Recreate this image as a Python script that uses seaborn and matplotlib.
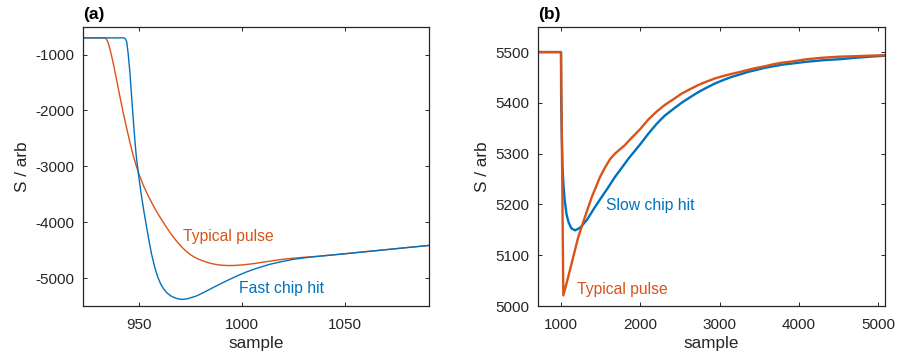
import matplotlib
matplotlib.use("Agg")
import matplotlib.pyplot as plt
import seaborn as sns
import pandas as pd

# ---------------- data ----------------
# Panel (a)
a_fast_x = [922, 942.7, 943.3, 943.9, 944.6, 945.5, 946.3, 947.1, 947.9, 948.6, 949.3, 950.1,
            951.1, 952.3, 953.6, 954.8, 956, 957.5, 959, 960.5, 962, 963.5, 965.5, 968,
            970.6, 973.5, 977.8, 981.5, 985.9, 990, 994, 998, 1002, 1008, 1013.4, 1019,
            1024.7, 1031, 1038, 1050, 1060, 1070, 1080, 1091]
a_fast_y = [-700, -700, -720, -768, -975, -1333, -1750, -2160, -2540, -2830, -3040, -3270,
            -3530, -3810, -4090, -4340, -4570, -4800, -4980, -5110, -5200, -5265, -5322, -5363,
            -5382, -5370, -5321, -5255, -5171, -5095, -5023, -4955, -4893, -4815, -4755, -4708,
            -4666, -4635, -4607, -4565, -4528, -4492, -4455, -4416]

a_typ_x = [922, 933.3, 934.1, 934.9, 935.8, 936.6, 937.4, 939, 940.6, 942.2, 943.9, 945.5,
           947.1, 948.7, 950.3, 952, 953.5, 955, 956.8, 958.8, 960.8, 962.8, 964.9, 967, 969,
           971, 973, 975, 977, 979, 981, 985, 989, 992.5, 995.6, 1000, 1005.3, 1013.4,
           1021.5, 1030, 1038, 1050, 1060, 1070, 1080, 1091]
a_typ_y = [-700, -700, -725, -790, -905, -1030, -1160, -1452, -1750, -2040, -2320, -2575,
           -2810, -3010, -3180, -3340, -3460, -3575, -3700, -3830, -3950, -4065, -4180, -4285,
           -4375, -4455, -4525, -4582, -4628, -4663, -4693, -4740, -4766, -4775, -4775, -4765,
           -4743, -4698, -4656, -4628, -4607, -4565, -4528, -4492, -4455, -4416]

# Panel (b)
b_slow_x = [700, 1000, 1001, 1009, 1018, 1030, 1045, 1070, 1095, 1130, 1177, 1240, 1324,
            1429, 1510, 1597, 1680, 1766, 1850, 1934, 1997, 2100, 2208, 2310, 2417, 2520,
            2628, 2730, 2838, 2940, 3048, 3150, 3259, 3360, 3469, 3570, 3679, 3780, 3890,
            4100, 4310, 4520, 4731, 4900, 5100]
b_slow_y = [5500, 5500, 5420, 5345, 5275, 5240, 5210, 5180, 5165, 5153, 5149, 5154, 5169,
            5195, 5214, 5234, 5254, 5272, 5290, 5306, 5318, 5339, 5359, 5375, 5388, 5400,
            5411, 5421, 5430, 5438, 5445, 5451, 5456, 5461, 5465, 5469, 5472, 5475, 5477,
            5481, 5484, 5486, 5489, 5491, 5493]

b_typ_x = [700, 1000, 1029, 1060, 1092, 1155, 1218, 1303, 1387, 1492, 1560, 1618, 1680,
           1740, 1800, 1890, 1997, 2100, 2208, 2310, 2417, 2520, 2628, 2730, 2838, 2940,
           3048, 3150, 3259, 3360, 3469, 3570, 3679, 3780, 3890, 4100, 4310, 4520, 4731,
           4900, 5100]
b_typ_y = [5500, 5500, 5021, 5039, 5058, 5097, 5136, 5176, 5214, 5254, 5274, 5289, 5300,
           5308, 5316, 5331, 5348, 5367, 5383, 5396, 5407, 5418, 5427, 5435, 5442, 5448,
           5453, 5457, 5461, 5465, 5469, 5472, 5476, 5479, 5481, 5486, 5489, 5491, 5492,
           5493, 5494]

a_xticks = [950, 1000, 1050]
a_yticks = [-5000, -4000, -3000, -2000, -1000]
b_xticks = [1000, 2000, 3000, 4000, 5000]
b_yticks = [5000, 5100, 5200, 5300, 5400, 5500]

BLUE = "#0072BD"
ORANGE = "#D95319"
AXC = "#262626"

sns.set_theme(style="ticks")
plt.rcParams["font.family"] = ["Liberation Sans", "DejaVu Sans"]
plt.rcParams["axes.unicode_minus"] = False
plt.rcParams["axes.edgecolor"] = AXC
plt.rcParams["axes.labelcolor"] = AXC
plt.rcParams["xtick.color"] = AXC
plt.rcParams["ytick.color"] = AXC

fig = plt.figure(figsize=(8.98, 3.55), dpi=100)
axA = fig.add_axes([0.0921, 0.138, 0.3856, 0.7868])
axB = fig.add_axes([0.5988, 0.138, 0.3871, 0.7868])

dfa_f = pd.DataFrame({"sample": a_fast_x, "S": a_fast_y})
dfa_t = pd.DataFrame({"sample": a_typ_x, "S": a_typ_y})
dfb_s = pd.DataFrame({"sample": b_slow_x, "S": b_slow_y})
dfb_t = pd.DataFrame({"sample": b_typ_x, "S": b_typ_y})

sns.lineplot(data=dfa_t, x="sample", y="S", color=ORANGE, lw=1.0, estimator=None,
             sort=False, ax=axA)
sns.lineplot(data=dfa_f, x="sample", y="S", color=BLUE, lw=1.0, estimator=None,
             sort=False, ax=axA)
sns.lineplot(data=dfb_s, x="sample", y="S", color=BLUE, lw=1.7, estimator=None,
             sort=False, ax=axB)
sns.lineplot(data=dfb_t, x="sample", y="S", color=ORANGE, lw=1.7, estimator=None,
             sort=False, ax=axB)

axA.set_xlim(922.5, 1091)
axA.set_ylim(-5500, -500)
axA.set_xticks(a_xticks)
axA.set_yticks(a_yticks)
axB.set_xlim(706, 5092)
axB.set_ylim(5000, 5550)
axB.set_xticks(b_xticks)
axB.set_yticks(b_yticks)

for ax, lab in [(axA, "(a)"), (axB, "(b)")]:
    for s in ax.spines.values():
        s.set_visible(True)
        s.set_linewidth(0.9)
        s.set_color(AXC)
    ax.tick_params(which="both", direction="in", top=True, right=True,
                   length=2.6, width=0.7, labelsize=11, colors=AXC)
    ax.tick_params(axis="x", pad=8.5)
    ax.tick_params(axis="y", pad=6)
    ax.set_xlabel("sample", fontsize=12.3, labelpad=3)
    ax.set_ylabel("S / arb", fontsize=12.3, labelpad=4)
    ax.text(0.0, 1.028, lab, transform=ax.transAxes, ha="left", va="baseline",
            fontsize=12.5, fontweight="bold", color="black")

axA.text(971.3, -4339, "Typical pulse", color=ORANGE, fontsize=11.3, va="baseline")
axA.text(998.5, -5273, "Fast chip hit", color=BLUE, fontsize=11.3, va="baseline")
axB.text(1562, 5190, "Slow chip hit", color=BLUE, fontsize=11.3, va="baseline")
axB.text(1196, 5024, "Typical pulse", color=ORANGE, fontsize=11.3, va="baseline")

fig.savefig("out.png", dpi=100)
